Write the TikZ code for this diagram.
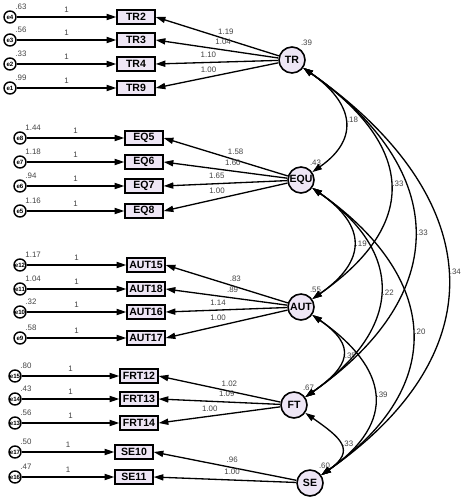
\documentclass[tikz,border=0pt]{standalone}
\usepackage{fontspec}
\setmainfont{Liberation Sans}
\usepackage{xcolor}
\usetikzlibrary{
    shapes,
    calc,
    positioning,
    arrows.meta
}

\definecolor{lav}{HTML}{EEE6F5}
\definecolor{numgray}{HTML}{444444}

\begin{document}
\begin{tikzpicture}[x=0.02cm, y=-0.02cm]
                  \useasboundingbox (0,0) rectangle (464,500);

                  % Styles for boxes, circles and arrows
                  \tikzset{
                        item/.style={draw, fill=lav, line width=0.8pt, minimum width=0.76cm, minimum height=0.28cm, inner sep=0.5pt, font=\fontsize{6}{7}\selectfont\bfseries},
                        latent/.style={circle, draw, fill=lav, line width=0.9pt, minimum size=0.52cm, inner sep=0pt, font=\fontsize{6}{7}\selectfont\bfseries},
                        err/.style={circle, draw, fill=white, line width=0.8pt, minimum size=0.24cm, inner sep=0pt, font=\fontsize{3.5}{4}\selectfont\bfseries},
                        num/.style={font=\fontsize{4.5}{5}\selectfont, text=numgray, inner sep=1pt},
                        load/.style={-{Triangle[length=5.5pt, width=3.5pt]}, line width=0.75pt},
                        cov/.style={{Triangle[length=5.5pt, width=3.5pt]}-{Triangle[length=5.5pt, width=3.5pt]}, line width=0.75pt}
                  }

                  % Latent factors
                  \node[latent, label={[num]60:.39}] (TR) at (292,60) {TR};
                  \node[latent, label={[num]60:.43}] (EQU) at (301,180) {EQU};
                  \node[latent, label={[num]60:.55}] (AUT) at (301,307) {AUT};
                  \node[latent, label={[num]60:.67}] (FT) at (294,405) {FT};
                  \node[latent, label={[num]60:.60}] (SE) at (310,483) {SE};

                  % TR items
                  \node[item] (TR2) at (136,17) {TR2};
                  \node[item] (TR3) at (136,40) {TR3};
                  \node[item] (TR4) at (136,64) {TR4};
                  \node[item] (TR9) at (136,88) {TR9};
                  \node[err, label={[num]60:.63}] (e_TR2) at (10,17) {e4};
                  \node[err, label={[num]60:.56}] (e_TR3) at (10,40) {e3};
                  \node[err, label={[num]60:.33}] (e_TR4) at (10,64) {e2};
                  \node[err, label={[num]60:.99}] (e_TR9) at (10,88) {e1};

                  % EQU items
                  \node[item] (EQ5) at (144,138) {EQ5};
                  \node[item] (EQ6) at (144,162) {EQ6};
                  \node[item] (EQ7) at (144,186) {EQ7};
                  \node[item] (EQ8) at (144,211) {EQ8};
                  \node[err, label={[num]60:1.44}] (e_EQ5) at (20,138) {e8};
                  \node[err, label={[num]60:1.18}] (e_EQ6) at (20,162) {e7};
                  \node[err, label={[num]60:.94}] (e_EQ7) at (20,186) {e6};
                  \node[err, label={[num]60:1.16}] (e_EQ8) at (20,211) {e5};

                  % AUT items
                  \node[item] (AUT15) at (146,265) {AUT15};
                  \node[item] (AUT18) at (146,289) {AUT18};
                  \node[item] (AUT16) at (146,312) {AUT16};
                  \node[item] (AUT17) at (146,338) {AUT17};
                  \node[err, label={[num]60:1.17}] (e_AUT15) at (20,265) {e12};
                  \node[err, label={[num]60:1.04}] (e_AUT18) at (20,289) {e11};
                  \node[err, label={[num]60:.32}] (e_AUT16) at (20,312) {e10};
                  \node[err, label={[num]60:.58}] (e_AUT17) at (20,338) {e9};

                  % FT items
                  \node[item] (FRT12) at (139,376) {FRT12};
                  \node[item] (FRT13) at (139,399) {FRT13};
                  \node[item] (FRT14) at (139,423) {FRT14};
                  \node[err, label={[num]60:.80}] (e_FRT12) at (15,376) {e15};
                  \node[err, label={[num]60:.43}] (e_FRT13) at (15,399) {e14};
                  \node[err, label={[num]60:.56}] (e_FRT14) at (15,423) {e13};

                  % SE items
                  \node[item] (SE10) at (134,452) {SE10};
                  \node[item] (SE11) at (134,477) {SE11};
                  \node[err, label={[num]60:.50}] (e_SE10) at (15,452) {e17};
                  \node[err, label={[num]60:.47}] (e_SE11) at (15,477) {e16};

                  % Error paths
                  \draw[load] (e_TR2) -- node[num, above=1pt] {1} (TR2);
                  \draw[load] (e_TR3) -- node[num, above=1pt] {1} (TR3);
                  \draw[load] (e_TR4) -- node[num, above=1pt] {1} (TR4);
                  \draw[load] (e_TR9) -- node[num, above=1pt] {1} (TR9);
                  \draw[load] (e_EQ5) -- node[num, above=1pt] {1} (EQ5);
                  \draw[load] (e_EQ6) -- node[num, above=1pt] {1} (EQ6);
                  \draw[load] (e_EQ7) -- node[num, above=1pt] {1} (EQ7);
                  \draw[load] (e_EQ8) -- node[num, above=1pt] {1} (EQ8);
                  \draw[load] (e_AUT15) -- node[num, above=1pt] {1} (AUT15);
                  \draw[load] (e_AUT18) -- node[num, above=1pt] {1} (AUT18);
                  \draw[load] (e_AUT16) -- node[num, above=1pt] {1} (AUT16);
                  \draw[load] (e_AUT17) -- node[num, above=1pt] {1} (AUT17);
                  \draw[load] (e_FRT12) -- node[num, above=1pt] {1} (FRT12);
                  \draw[load] (e_FRT13) -- node[num, above=1pt] {1} (FRT13);
                  \draw[load] (e_FRT14) -- node[num, above=1pt] {1} (FRT14);
                  \draw[load] (e_SE10) -- node[num, above=1pt] {1} (SE10);
                  \draw[load] (e_SE11) -- node[num, above=1pt] {1} (SE11);

                  % Factor loadings
                  \draw[load] (TR) -- node[num, pos=0.43, above=1.5pt] {1.19} (TR2.east);
                  \draw[load] (TR) -- node[num, pos=0.45, above=1.5pt] {1.04} (TR3.east);
                  \draw[load] (TR) -- node[num, pos=0.57, above=1.5pt] {1.10} (TR4.east);
                  \draw[load] (TR) -- node[num, pos=0.57, above=1.5pt] {1.00} (TR9.east);
                  \draw[load] (EQU) -- node[num, pos=0.42, above=1.5pt] {1.58} (EQ5.east);
                  \draw[load] (EQU) -- node[num, pos=0.44, above=1.5pt] {1.60} (EQ6.east);
                  \draw[load] (EQU) -- node[num, pos=0.57, above=1.5pt] {1.65} (EQ7.east);
                  \draw[load] (EQU) -- node[num, pos=0.57, above=1.5pt] {1.00} (EQ8.east);
                  \draw[load] (AUT) -- node[num, pos=0.43, above=1.5pt] {.83} (AUT15.east);
                  \draw[load] (AUT) -- node[num, pos=0.45, above=1.5pt] {.89} (AUT18.east);
                  \draw[load] (AUT) -- node[num, pos=0.57, above=1.5pt] {1.14} (AUT16.east);
                  \draw[load] (AUT) -- node[num, pos=0.57, above=1.5pt] {1.00} (AUT17.east);
                  \draw[load] (FT) -- node[num, pos=0.42, above=1.5pt] {1.02} (FRT12.east);
                  \draw[load] (FT) -- node[num, pos=0.44, above=1.5pt] {1.09} (FRT13.east);
                  \draw[load] (FT) -- node[num, pos=0.58, above=1.5pt] {1.00} (FRT14.east);
                  \draw[load] (SE) -- node[num, pos=0.45, above=1.5pt] {.96} (SE10.east);
                  \draw[load] (SE) -- node[num, pos=0.45, above=1.5pt] {1.00} (SE11.east);

                  % Covariances between factors
                  \draw[cov] (TR) to[out=-35, in=35, looseness=1.47] node[num, right] {.18} (EQU);
                  \draw[cov] (TR) to[out=-35, in=35, looseness=1.48] node[num, right] {.33} (AUT);
                  \draw[cov] (TR) to[out=-35, in=35, looseness=1.39] node[num, right] {.33} (FT);
                  \draw[cov] (TR) to[out=-35, in=35, looseness=1.38] node[num, right] {.34} (SE);
                  \draw[cov] (EQU) to[out=-35, in=35, looseness=1.54] node[num, right] {.19} (AUT);
                  \draw[cov] (EQU) to[out=-35, in=35, looseness=1.42] node[num, right] {.22} (FT);
                  \draw[cov] (EQU) to[out=-35, in=35, looseness=1.38] node[num, right] {.20} (SE);
                  \draw[cov] (AUT) to[out=-35, in=35, looseness=1.70] node[num, right] {.35} (FT);
                  \draw[cov] (AUT) to[out=-35, in=35, looseness=1.49] node[num, right] {.39} (SE);
                  \draw[cov] (FT) to[out=-35, in=35, looseness=1.72] node[num, right] {.33} (SE);
            \end{tikzpicture}
\end{document}
